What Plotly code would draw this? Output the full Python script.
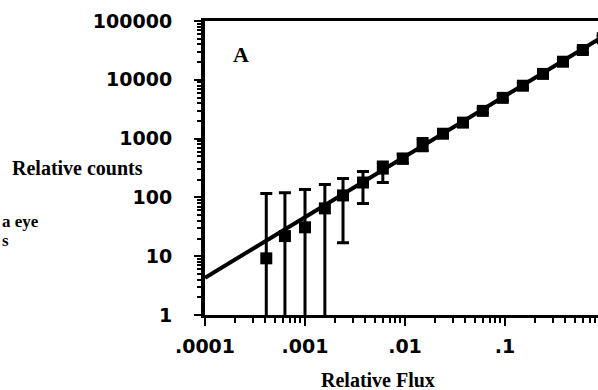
import plotly.graph_objects as go

# Data
flux = [0.00041, 0.00063, 0.001, 0.00158, 0.0024, 0.0038, 0.006, 0.0095, 0.015,
        0.024, 0.038, 0.06, 0.095, 0.151, 0.24, 0.38, 0.6, 0.95]
counts = [9.2, 22, 31, 65, 108, 179, 309, 457, 760,
          1210, 1870, 2960, 4930, 7930, 12600, 20300, 32100, 51000]
upper = [117, 120, 136, 166, 210, 275, 400, 540, 1000,
         1330, 2060, 3250, 5420, 8700, 13800, 22300, 35300, 56000]
lower = [0.3, 0.3, 0.3, 0.3, 17, 79, 180, 380, 620,
         1100, 1700, 2700, 4480, 7200, 11500, 18500, 29200, 46400]
fit_flux = [0.0001, 1.0]
fit_counts = [4.3, 57000]

x_ticks = [0.0001, 0.001, 0.01, 0.1]
x_labels = [".0001", ".001", ".01", ".1"]
y_ticks = [1, 10, 100, 1000, 10000, 100000]
y_labels = ["1", "10", "100", "1000", "10000", "100000"]

err_plus = [u - c for u, c in zip(upper, counts)]
err_minus = [c - l for c, l in zip(counts, lower)]

W, H = 598, 390
L, R, T, B = 205, 0, 21, 75

def px(xp):
    return (xp - L) / (W - L - R)

def py(yp):
    return (H - B - yp) / (H - B - T)

fig = go.Figure()
fig.add_trace(go.Scatter(
    x=fit_flux, y=fit_counts, mode="lines",
    line=dict(color="black", width=4), showlegend=False, hoverinfo="skip"))
fig.add_trace(go.Scatter(
    x=flux, y=counts, mode="markers",
    marker=dict(symbol="square", size=12, color="black"),
    error_y=dict(type="data", symmetric=False, array=err_plus, arrayminus=err_minus,
                 color="black", thickness=3, width=6),
    showlegend=False, cliponaxis=True))

axis_font = dict(family="DejaVu Sans", size=19, color="black", weight="bold")

fig.update_xaxes(
    type="log", range=[-4, -0.07], automargin=False,
    tickvals=x_ticks, ticktext=x_labels, tickfont=axis_font,
    showline=True, linecolor="black", linewidth=3, mirror=True,
    ticks="outside", ticklen=8, tickwidth=2, tickcolor="black",
    ticklabelstandoff=4,
    minor=dict(ticks="outside", ticklen=5, tickwidth=2, tickcolor="black",
               dtick="D1", showgrid=False),
    showgrid=False, zeroline=False)
fig.update_yaxes(
    type="log", range=[0, 5], automargin=False,
    tickvals=y_ticks, ticktext=y_labels, tickfont=axis_font,
    showline=True, linecolor="black", linewidth=4, mirror=False,
    ticks="outside", ticklen=7, tickwidth=2, tickcolor="black",
    ticklabelstandoff=18,
    minor=dict(ticks="outside", ticklen=4, tickwidth=2, tickcolor="black",
               dtick="D1", showgrid=False),
    showgrid=False, zeroline=False)

serif = "Liberation Serif"
annotations = [
    dict(text="Relative counts", x=px(10), y=py(168), xanchor="left", yanchor="middle",
         font=dict(family=serif, size=20, color="black", weight="bold")),
    dict(text="Relative Flux", x=px(378), y=py(380), xanchor="center", yanchor="middle",
         font=dict(family=serif, size=20, color="black", weight="bold")),
    dict(text="A", x=px(241), y=py(54), xanchor="center", yanchor="middle",
         font=dict(family=serif, size=22, color="black", weight="bold")),
    dict(text="a eye", x=px(0), y=py(221), xanchor="left", yanchor="middle",
         font=dict(family=serif, size=17, color="black", weight="bold")),
    dict(text="s", x=px(0), y=py(240), xanchor="left", yanchor="middle",
         font=dict(family=serif, size=17, color="black", weight="bold")),
]
for a in annotations:
    a.update(xref="paper", yref="paper", showarrow=False)

fig.update_layout(
    width=W, height=H,
    margin=dict(l=L, r=R, t=T, b=B, pad=0, autoexpand=False),
    paper_bgcolor="white", plot_bgcolor="white",
    annotations=annotations,
)

fig.write_html("out.html",
               config={"displayModeBar": False},
               post_script="document.body.style.margin='0';document.body.style.overflow='hidden';")
